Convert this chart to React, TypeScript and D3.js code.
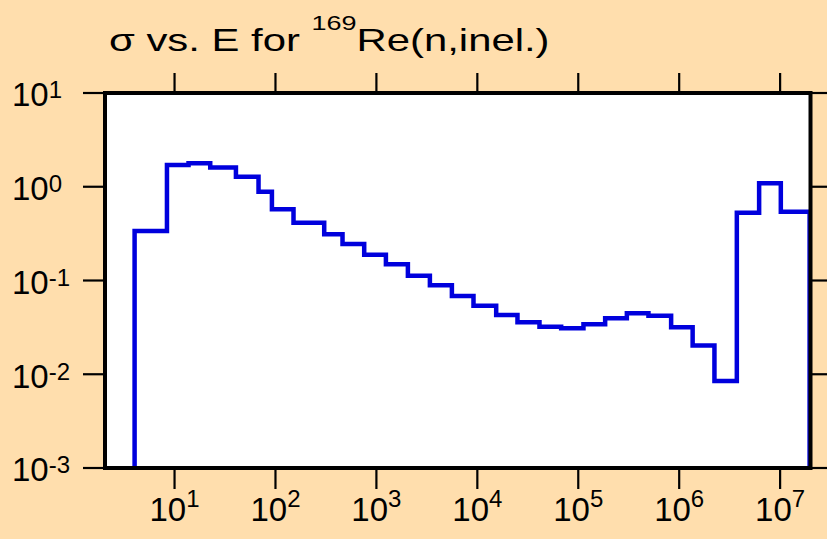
import React from "react";
import * as d3 from "d3";

const binEdges = [4.02, 8.41, 13.76, 22.57, 40.57, 67.94, 92.2, 150.9, 304, 461.6, 757, 1242, 2051, 3388, 5597, 9161, 15375, 24990, 41280, 67700, 112600, 184700, 303000, 496000, 832000, 1.359e6, 2.235e6, 3.725e6, 6.195e6, 1.016e7, 1.96e7];
const sigmaValues = [0.337, 1.706, 1.78, 1.6, 1.28, 0.886, 0.575, 0.4135, 0.311, 0.245, 0.188, 0.149, 0.1125, 0.0889, 0.0684, 0.0538, 0.0429, 0.0358, 0.0321, 0.0309, 0.0341, 0.0395, 0.0447, 0.0421, 0.0317, 0.0203, 0.00848, 0.529, 1.089, 0.542];
const xTickExps = [1, 2, 3, 4, 5, 6, 7];
const yTickExps = [1, 0, -1, -2, -3];

const W = 827, H = 539;
const FONT = "'Liberation Sans', Arial, Helvetica, sans-serif";

export default function App() {
  const x = d3.scaleLog().domain([2, 2e7]).range([104, 810.5]);
  const y = d3.scaleLog().domain([1e-3, 10]).range([468, 93]);
  const yMin = 1e-3;

  const pts: [number, number][] = [[binEdges[0], yMin]];
  sigmaValues.forEach((v, i) => {
    pts.push([binEdges[i], v]);
    pts.push([binEdges[i + 1], v]);
  });
  pts.push([binEdges[binEdges.length - 1], yMin]);
  const line = d3.line<[number, number]>().x(d => x(d[0])).y(d => y(d[1]));

  const x0 = 105, x1 = 810.5, y0 = 93, y1 = 468;

  return (
    <svg width={W} height={H} style={{ position: "absolute", left: 0, top: 0, display: "block" }} fontFamily={FONT}>
      <rect x={0} y={0} width={W} height={H} fill="#FFDEAD" />
      <rect x={x0} y={y0} width={x1 - x0} height={y1 - y0} fill="#ffffff" />
      <path d={line(pts) || ""} fill="none" stroke="#0000dd" strokeWidth={4.5} strokeLinejoin="miter" strokeLinecap="butt" />
      <rect x={x0} y={y0} width={x1 - x0} height={y1 - y0} fill="none" stroke="#000" strokeWidth={4} />
      {xTickExps.map(e => {
        const px = x(Math.pow(10, e));
        return (
          <g key={"xt" + e}>
            <line x1={px} x2={px} y1={y0} y2={73} stroke="#000" strokeWidth={2.2} />
            <line x1={px} x2={px} y1={y1} y2={489} stroke="#000" strokeWidth={2.2} />
            <text x={px} y={521} textAnchor="middle" fontSize={33} fill="#000">
              10<tspan fontSize={24} dy={-14}>{e}</tspan>
            </text>
          </g>
        );
      })}
      {yTickExps.map(e => {
        const py = y(Math.pow(10, e));
        return (
          <g key={"yt" + e}>
            <line x1={x0} x2={83} y1={py} y2={py} stroke="#000" strokeWidth={2.2} />
            <line x1={x1} x2={827} y1={py} y2={py} stroke="#000" strokeWidth={2.2} />
            <text x={12} y={py + 13.3} fontSize={33} fill="#000">
              10<tspan fontSize={24} dy={-8}>{e}</tspan>
            </text>
          </g>
        );
      })}
      <g transform="translate(109,51) scale(1.35,1)">
        <text x={0} y={0} fontSize={31} fill="#000">
          σ vs. E for <tspan fontSize={20} dy={-21}>169</tspan><tspan dy={21}>Re(n,inel.)</tspan>
        </text>
      </g>
    </svg>
  );
}
